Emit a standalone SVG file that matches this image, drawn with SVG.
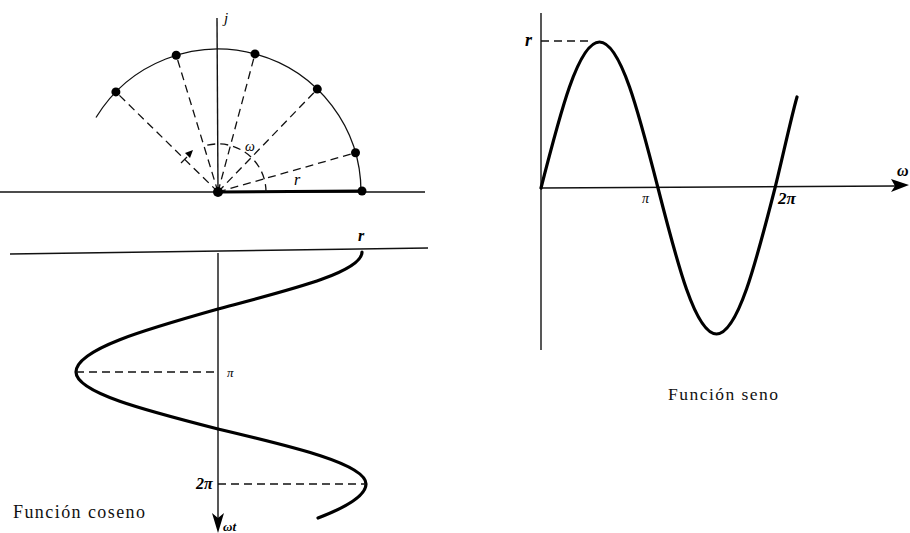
<svg xmlns="http://www.w3.org/2000/svg" width="910" height="533" viewBox="0 0 910 533">
<style>
.ax{stroke:#111;stroke-width:1.4;fill:none}
.dash{stroke:#111;stroke-width:1.3;fill:none;stroke-dasharray:8 5}
.curve{stroke:#000;stroke-width:3.2;fill:none;stroke-linecap:round}
.thin{stroke:#111;stroke-width:1.3;fill:none}
.dot{fill:#000}
.m{font-family:"Liberation Serif","DejaVu Serif",serif;font-style:italic;fill:#000}
.mb{font-family:"Liberation Serif","DejaVu Serif",serif;font-style:italic;font-weight:bold;fill:#000}
.cap{font-family:"Liberation Serif","DejaVu Serif",serif;fill:#111}
</style>
<rect width="910" height="533" fill="#fff"/>

<g id="phasor">
<line class="ax" x1="0" y1="192" x2="425" y2="192"/>
<line class="ax" x1="217" y1="18" x2="218" y2="192"/>
<path class="thin" d="M96,117.5 A143,143 0 0 1 361,192"/>
<line x1="218" y1="192" x2="362" y2="191" stroke="#000" stroke-width="3.2"/>
<line class="dash" x1="218" y1="192" x2="355.5" y2="152.8"/>
<line class="dash" x1="218" y1="192" x2="317.3" y2="89.1"/>
<line class="dash" x1="218" y1="192" x2="255" y2="53.9"/>
<line class="dash" x1="218" y1="192" x2="176.2" y2="55.2"/>
<line class="dash" x1="218" y1="192" x2="115.9" y2="91.9"/>
<path class="dash" d="M266,192 A48,48 0 0 0 204,146" stroke-dasharray="9 4"/>
<line class="thin" x1="181" y1="163" x2="187" y2="157" stroke-width="1.8"/>
<path d="M185,153 L193,150 L190,158 Z" fill="#000"/>
<circle class="dot" cx="218" cy="192" r="5"/>
<circle class="dot" cx="362" cy="191" r="4.5"/>
<circle class="dot" cx="355.5" cy="152.8" r="4.5"/>
<circle class="dot" cx="317.3" cy="89.1" r="4.5"/>
<circle class="dot" cx="255" cy="53.9" r="4.5"/>
<circle class="dot" cx="176.2" cy="55.2" r="4.5"/>
<circle class="dot" cx="115.9" cy="91.9" r="4.5"/>
<text class="m" x="224" y="23" font-size="15">j</text>
<text class="m" x="245" y="151" font-size="14">ω</text>
<text class="m" x="294" y="185" font-size="16">r</text>
</g>

<g id="cosine">
<line class="ax" x1="10" y1="254" x2="428" y2="248"/>
<line class="ax" x1="218" y1="253" x2="218" y2="518"/>
<path d="M218,533 L212,513 L218,518 L224,513 Z" fill="#000"/>
<path class="curve" d="M362,252 C362,272.6 288,290.4 218,309 C145.3,329.5 76,349.2 76,372 C76,392.6 145.3,410.4 218,429 C293.8,446.9 366,464.1 366,484 C366,494 352,505 318,518"/>
<line class="dash" x1="76" y1="372" x2="218" y2="372"/>
<line class="dash" x1="218" y1="484" x2="366" y2="484"/>
<text class="mb" x="358" y="241" font-size="16">r</text>
<text class="m" x="227" y="377" font-size="13">π</text>
<text class="mb" x="196" y="489" font-size="16">2π</text>
<text class="mb" x="223" y="531" font-size="13">ωt</text>
<text class="cap" x="13" y="518" font-size="18" textLength="132" lengthAdjust="spacing">Función coseno</text>
</g>

<g id="sine">
<line class="ax" x1="541" y1="13" x2="541" y2="350"/>
<line class="ax" x1="541" y1="188" x2="895" y2="186"/>
<path d="M909,185 L891,179 L895,186 L891,192 Z" fill="#000"/>
<line class="dash" x1="541" y1="41" x2="592" y2="41"/>
<path class="curve" d="M541,188 C560.1,113.2 578.3,42 599.5,42 C620.7,42 638.9,113.2 658,188 C677.1,262.8 695.3,334 716.5,334 C737.7,334 755.9,262.8 775,188 C782,160 791,118 797,97"/>
<text class="mb" x="525" y="46" font-size="18">r</text>
<text class="m" x="642" y="203" font-size="14">π</text>
<text class="mb" x="778" y="204" font-size="17">2π</text>
<text class="mb" x="897" y="176" font-size="16">ω</text>
<text class="cap" x="668" y="400" font-size="17.5" textLength="110" lengthAdjust="spacing">Función seno</text>
</g>
</svg>
